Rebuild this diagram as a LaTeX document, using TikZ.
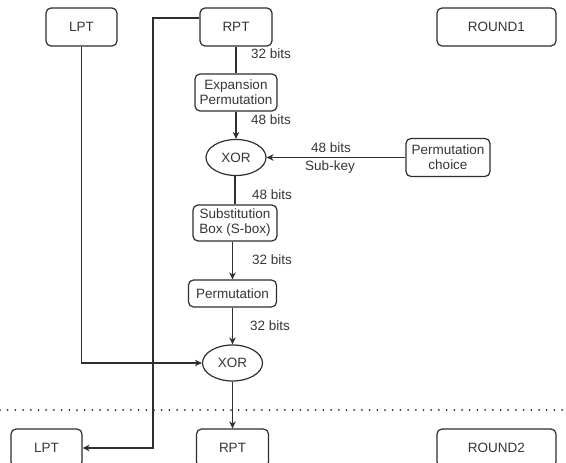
\documentclass[tikz,border=0pt]{standalone}
\usepackage{fontspec}
\setmainfont{Liberation Sans}
\usepackage{xcolor}
\usetikzlibrary{shapes.geometric,arrows.meta,positioning,calc}
\definecolor{DK}{HTML}{2E2E2E}
\definecolor{TX}{HTML}{363636}

\tikzset{
  blk/.style={draw=DK, line width=1.2pt, rounded corners=5pt, fill=white,
              align=center, inner sep=2pt, text=TX},
  xorop/.style={draw=DK, line width=1.2pt, ellipse, fill=white,
                minimum width=60pt, minimum height=36pt, inner sep=0pt, text=TX},
  bits/.style={text=TX, inner sep=1pt},
  arr/.style={-{Stealth[length=7pt,width=6.5pt]}},
  ln/.style={draw=DK, line width=1.2pt}
}

\begin{document}
\begin{tikzpicture}[x=1pt, y=-1pt, font=\fontsize{13.5}{15}\selectfont]
  \useasboundingbox (0,0) rectangle (566,463);
  \clip (0,0) rectangle (566,463);

  % round 1
  \node[blk, minimum width=71pt, minimum height=38pt] (lptA) at (81.5,27) {LPT};
  \node[blk, minimum width=72pt, minimum height=38pt] (rptA) at (236,27) {RPT};
  \node[blk, minimum width=119pt, minimum height=38pt] (roundA) at (496.5,27) {ROUND1};

  % f-function
  \node[blk, minimum width=82pt, minimum height=37pt] (expand) at (236,92.5) {Expansion\\Permutation};
  \node[xorop] (xorA) at (236,157.5) {XOR};
  \node[blk, minimum width=84pt, minimum height=38pt] (pchoice) at (448,157.5) {Permutation\\choice};
  \node[blk, minimum width=84pt, minimum height=36pt] (sbox) at (235,223) {Substitution\\Box (S-box)};
  \node[blk, minimum width=88pt, minimum height=27pt] (perm) at (232.5,293.5) {Permutation};
  \node[xorop] (xorB) at (232.5,363) {XOR};

  % round 2
  \node[blk, minimum width=71pt, minimum height=38pt] (lptB) at (46.5,448) {LPT};
  \node[blk, minimum width=72pt, minimum height=38pt] (rptB) at (232.5,448) {RPT};
  \node[blk, minimum width=119pt, minimum height=38pt] (roundB) at (496.5,448) {ROUND2};

  \coordinate (cross) at (153,448);

  % connectors
  \draw[ln] (rptA) -- (expand);
  \draw[ln,arr] (expand) -- (xorA);
  \draw[ln,arr] (pchoice) -- (xorA);
  \draw[ln] (xorA.south -| sbox.north) -- (sbox.north);
  \draw[ln,arr] (sbox.south -| perm.north) -- (perm.north);
  \draw[ln,arr] (perm) -- (xorB);
  \draw[ln,arr] (xorB) -- (rptB);
  \draw[ln,arr] (lptA) |- (xorB);
  \draw[ln,arr] ([yshift=9pt]rptA.west) -| (cross) -- (lptB);

  % bit widths
  \node[bits] (wA) at (271,54) {32 bits};
  \node[bits] (wB) at (271,120) {48 bits};
  \node[bits] (wC) at (331,148) {48 bits};
  \node[bits] (wD) at (330,167) {Sub-key};
  \node[bits] (wE) at (272,195) {48 bits};
  \node[bits] (wF) at (272,260) {32 bits};
  \node[bits] (wG) at (270,326) {32 bits};

  % round separator
  \draw[DK, line width=2pt, line cap=round, dash pattern=on 0pt off 7.7pt] (0,410) -- (566,410);
\end{tikzpicture}
\end{document}
